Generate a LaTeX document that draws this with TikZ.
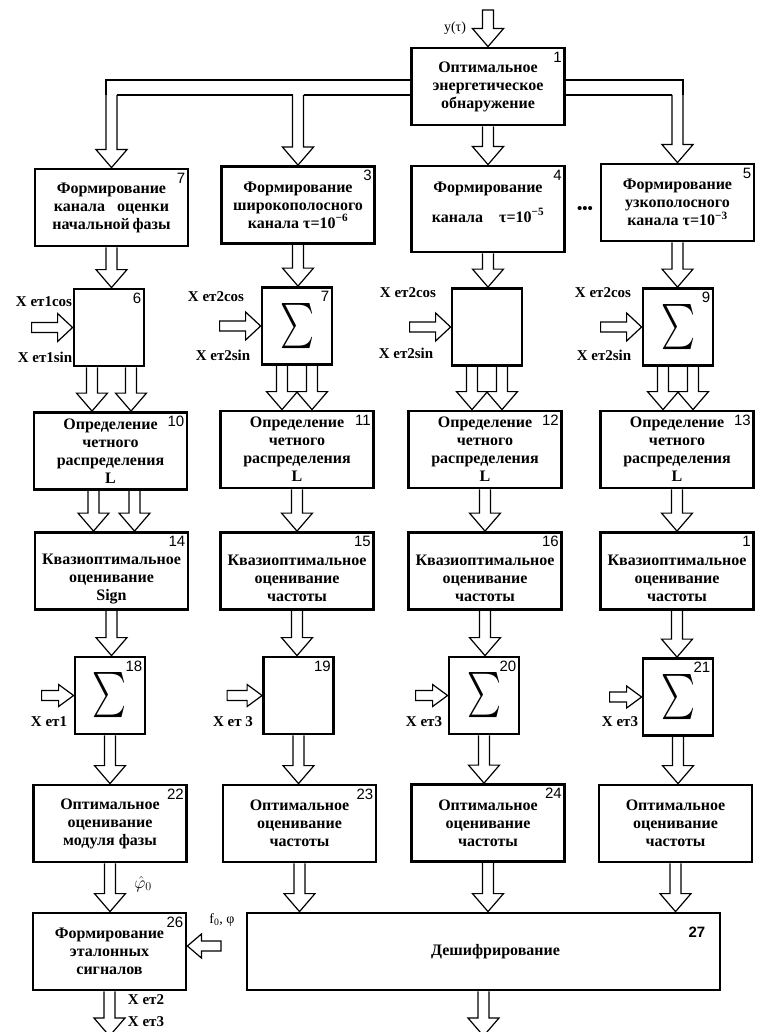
\documentclass[tikz,border=0pt]{standalone}
\usepackage{fontspec}
\setmainfont{Liberation Serif}
\newfontfamily\numfont{Liberation Sans}
\usetikzlibrary{calc}

% hollow block arrows
\newcommand{\arrdown}[3][]{%
  \draw[harrow] let \p1=#2, \p2=#3 in
    (\x1-5.5pt,\y1) -- (\x1-5.5pt,\y2+18pt) -- (\x1-15.5pt,\y2+18pt) -- (\x1,\y2)
    -- (\x1+15.5pt,\y2+18pt) -- (\x1+5.5pt,\y2+18pt) -- (\x1+5.5pt,\y1) #1;}
\newcommand{\arrright}[3][14]{%
  \draw[harrow] let \p1=#2, \p2=#3 in
    (\x1,\y2+5pt) -- (\x2-15pt,\y2+5pt) -- (\x2-15pt,\y2+#1pt) -- (\x2,\y2)
    -- (\x2-15pt,\y2-#1pt) -- (\x2-15pt,\y2-5pt) -- (\x1,\y2-5pt) -- cycle;}
\newcommand{\arrleft}[2]{%
  \draw[harrow] let \p1=#1, \p2=#2 in
    (\x1,\y1+5pt) -- (\x2+14pt,\y1+5pt) -- (\x2+14pt,\y1+12pt) -- (\x2,\y1)
    -- (\x2+14pt,\y1-12pt) -- (\x2+14pt,\y1-5pt) -- (\x1,\y1-5pt) -- cycle;}
\newcommand{\sig}{\resizebox{34pt}{42pt}{$\sum$}}
\newcommand{\kvtext}[1]{\rule{0pt}{26pt}Квазиоптимальное\\оценивание\\#1}

\begin{document}
\begin{tikzpicture}[x=1pt, y=-1pt,
  box/.style={draw, line width=2.8pt, align=center, inner sep=0pt, font=\bfseries\fontsize{16}{18}\selectfont},
  big/.style={box, minimum width=153, minimum height=77},
  small/.style={box, minimum width=70, minimum height=77},
  num/.style={font=\numfont\fontsize{15}{15}\selectfont, anchor=north east, inner sep=0pt, xshift=-4pt, yshift=-5pt},
  lbl/.style={font=\bfseries\fontsize{15}{15}\selectfont, inner sep=0pt},
  harrow/.style={line width=1.2pt, line join=miter}]
\useasboundingbox (0,0) rectangle (757,1032);
\clip (0,0) rectangle (757,1032);

% row 1
\node[big, label={[num]north east:1}] (opt1) at (488,86.5) {Оптимальное\\энергетическое\\обнаружение};
\node[font=\fontsize{14}{14}\selectfont, inner sep=0pt] (yin) at (455,28) {y(τ)};

% row 2
\node[big, label={[num]north east:7}] (form7) at (111.5,207.5) {Формирование\\канала~~~оценки\\начальной\,фазы};
\node[big, label={[num]north east:3}] (form3) at (298,205) {Формирование\\широкополосного\\канала τ=10\textsuperscript{−6}};
\node[big, minimum height=86, label={[num]north east:4}] (form4) at (488,209) {Формирование\\[12pt]канала\quad τ=10\textsuperscript{−5}\rule[-14pt]{0pt}{1pt}};
\node[big, label={[num]north east:5}] (form5) at (677.5,202.5) {Формирование\\узкополосного\\канала τ=10\textsuperscript{−3}};
\node[lbl] (dots) at (585,210) {•••};

% row 3
\node[small, label={[num]north east:6}] (sum6) at (109,327.5) {};
\node[small, label={[num]north east:7}] (sum7) at (297,326) {\sig};
\node[small] (sum8) at (487,327) {};
\node[small, label={[num]north east:9}] (sum9) at (678,327) {\sig};

% row 4
\node[big, label={[num]north east:10}] (det10) at (110.5,451) {Определение\\четного\\распределения\\L};
\node[big, label={[num]north east:11}] (det11) at (297,449.5) {Определение\\четного\\распределения\\L};
\node[big, label={[num]north east:12}] (det12) at (485,449.5) {Определение\\четного\\распределения\\L};
\node[big, label={[num]north east:13}] (det13) at (677,449.5) {Определение\\четного\\распределения\\L};

% row 5
\node[big, label={[num]north east:14}] (kv14) at (111.5,571) {\kvtext{Sign}};
\node[big, label={[num]north east:15}] (kv15) at (297,571) {\kvtext{частоты}};
\node[big, label={[num]north east:16}] (kv16) at (485,571) {\kvtext{частоты}};
\node[big, label={[num]north east:1}] (kv17) at (677,571) {\kvtext{частоты}};

% row 6
\node[small, label={[num]north east:18}] (sum18) at (110,695.5) {\sig};
\node[small, label={[num]north east:19}] (sum19) at (298.5,695.5) {};
\node[small, label={[num]north east:20}] (sum20) at (484,695.5) {\sig};
\node[small, label={[num]north east:21}] (sum21) at (678,697) {\sig};

% row 7
\node[big, label={[num]north east:22}] (opt22) at (110,823.5) {Оптимальное\\оценивание\\модуля фазы};
\node[big, label={[num]north east:23}] (opt23) at (299.5,823.5) {Оптимальное\\оценивание\\частоты};
\node[big, label={[num]north east:24}] (opt24) at (488,823) {Оптимальное\\оценивание\\частоты};
\node[big] (opt25) at (675.5,823.5) {Оптимальное\\оценивание\\частоты};

% row 8
\node[big, label={[num]north east:26}] (form26) at (109.5,951.5) {Формирование\\эталонных\\сигналов};
\node[box, minimum width=473, minimum height=77, label={[num, font=\numfont\bfseries\fontsize{15}{15}\selectfont, xshift=-12pt, yshift=-10pt]north east:27}] (dec27) at (483.5,951.5) {\hspace*{24pt}Дешифрирование};

% input labels
\node[lbl] (c6) at (44,302) {X eт1cos};
\node[lbl] (n6) at (45,357) {X eт1sin};
\node[lbl] (c7) at (216,297) {X eт2cos};
\node[lbl] (n7) at (223,355) {X eт2sin};
\node[lbl] (c8) at (408,293) {X eт2cos};
\node[lbl] (n8) at (406,353) {X eт2sin};
\node[lbl] (c9) at (603,293) {X eт2cos};
\node[lbl] (n9) at (604,355) {X eт2sin};
\node[lbl] (e18) at (49,722) {X eт1};
\node[lbl] (e19) at (233,722) {X eт 3};
\node[lbl] (e20) at (424,722) {X eт3};
\node[lbl] (e21) at (620,722) {X eт3};
\node[inner sep=0pt, font=\fontsize{17}{17}\selectfont] (phi) at (143,884) {$\hat{\varphi}_0$};
\node[inner sep=0pt, font=\fontsize{14}{14}\selectfont] (fphi) at (222,920) {f\textsubscript{0}, φ};
\node[lbl] (e2) at (146,1000) {X eт2};
\node[lbl] (e3) at (146,1022) {X eт3};

% bus from 1
\draw[harrow] (opt1.west |- 0,80) -- (106,80) -- (106,95);
\draw[harrow] (117,95) -- (292.5,95);
\draw[harrow] (303.5,95) -- (opt1.west |- 0,95);
\draw[harrow] (opt1.east |- 0,80) -- (683,80) -- (683,95);
\draw[harrow] (672,95) -- (opt1.east |- 0,95);
\arrdown{(form7.north |- 0,95)}{(form7.north)}
\arrdown{(form3.north |- 0,95)}{(form3.north)}
\arrdown{(form5.north |- 0,95)}{(form5.north)}
\arrdown[-- cycle]{(opt1.north |- 0,10)}{(opt1.north)}
\arrdown{(opt1.south)}{(form4.north)}

% row 2 -> row 3
\arrdown{(form7.south)}{(sum6.north)}
\arrdown{(form3.south)}{(sum7.north)}
\arrdown{(form4.south)}{(sum8.north)}
\arrdown{(form5.south)}{(sum9.north)}
\arrright{($(sum6.west)+(-41,0)$)}{(sum6.west)}
\arrright{($(sum7.west)+(-41,0)$)}{(sum7.west)}
\arrright{($(sum8.west)+(-41,0)$)}{(sum8.west)}
\arrright{($(sum9.west)+(-41,0)$)}{(sum9.west)}

% row 3 -> row 4
\arrdown{($(sum6.south)+(-17,0)$)}{(det10.north)}
\arrdown{($(sum6.south)+(22,0)$)}{(det10.north)}
\arrdown{($(sum7.south)+(-15,0)$)}{(det11.north)}
\arrdown{($(sum7.south)+(15,0)$)}{(det11.north)}
\arrdown{($(sum8.south)+(-15,0)$)}{(det12.north)}
\arrdown{($(sum8.south)+(15,0)$)}{(det12.north)}
\arrdown{($(sum9.south)+(-15,0)$)}{(det13.north)}
\arrdown{($(sum9.south)+(15,0)$)}{(det13.north)}

% row 4 -> row 5
\arrdown{($(det10.south)+(-17,0)$)}{(kv14.north)}
\arrdown{($(det10.south)+(24,0)$)}{(kv14.north)}
\arrdown{(det11.south)}{(kv15.north)}
\arrdown{(det12.south)}{(kv16.north)}
\arrdown{(det13.south)}{(kv17.north)}

% row 5 -> row 6
\arrdown{(kv14.south)}{(sum18.north)}
\arrdown{(kv15.south)}{(sum19.north)}
\arrdown{(kv16.south)}{(sum20.north)}
\arrdown{(kv17.south)}{(sum21.north)}
\arrright[11]{($(sum18.west)+(-32,0)$)}{(sum18.west)}
\arrright[11]{($(sum19.west)+(-35,0)$)}{(sum19.west)}
\arrright[11]{($(sum20.west)+(-32,0)$)}{(sum20.west)}
\arrright[11]{($(sum21.west)+(-32,0)$)}{(sum21.west)}

% row 6 -> row 7
\arrdown{(sum18.south)}{(opt22.north)}
\arrdown{(sum19.south)}{(opt23.north)}
\arrdown{(sum20.south)}{(opt24.north)}
\arrdown{(sum21.south)}{(opt25.north)}

% row 7 -> row 8
\arrdown{(opt22.south)}{(form26.north)}
\arrdown{(opt23.south)}{(dec27.north -| opt23.south)}
\arrdown{(opt24.south)}{(dec27.north -| opt24.south)}
\arrdown{(opt25.south)}{(dec27.north -| opt25.south)}
\arrleft{(221,946)}{(form26.east)}
\arrdown{(form26.south)}{(form26.south |- 0,1036)}
\arrdown{(dec27.south)}{(dec27.south |- 0,1036)}
\end{tikzpicture}
\end{document}
